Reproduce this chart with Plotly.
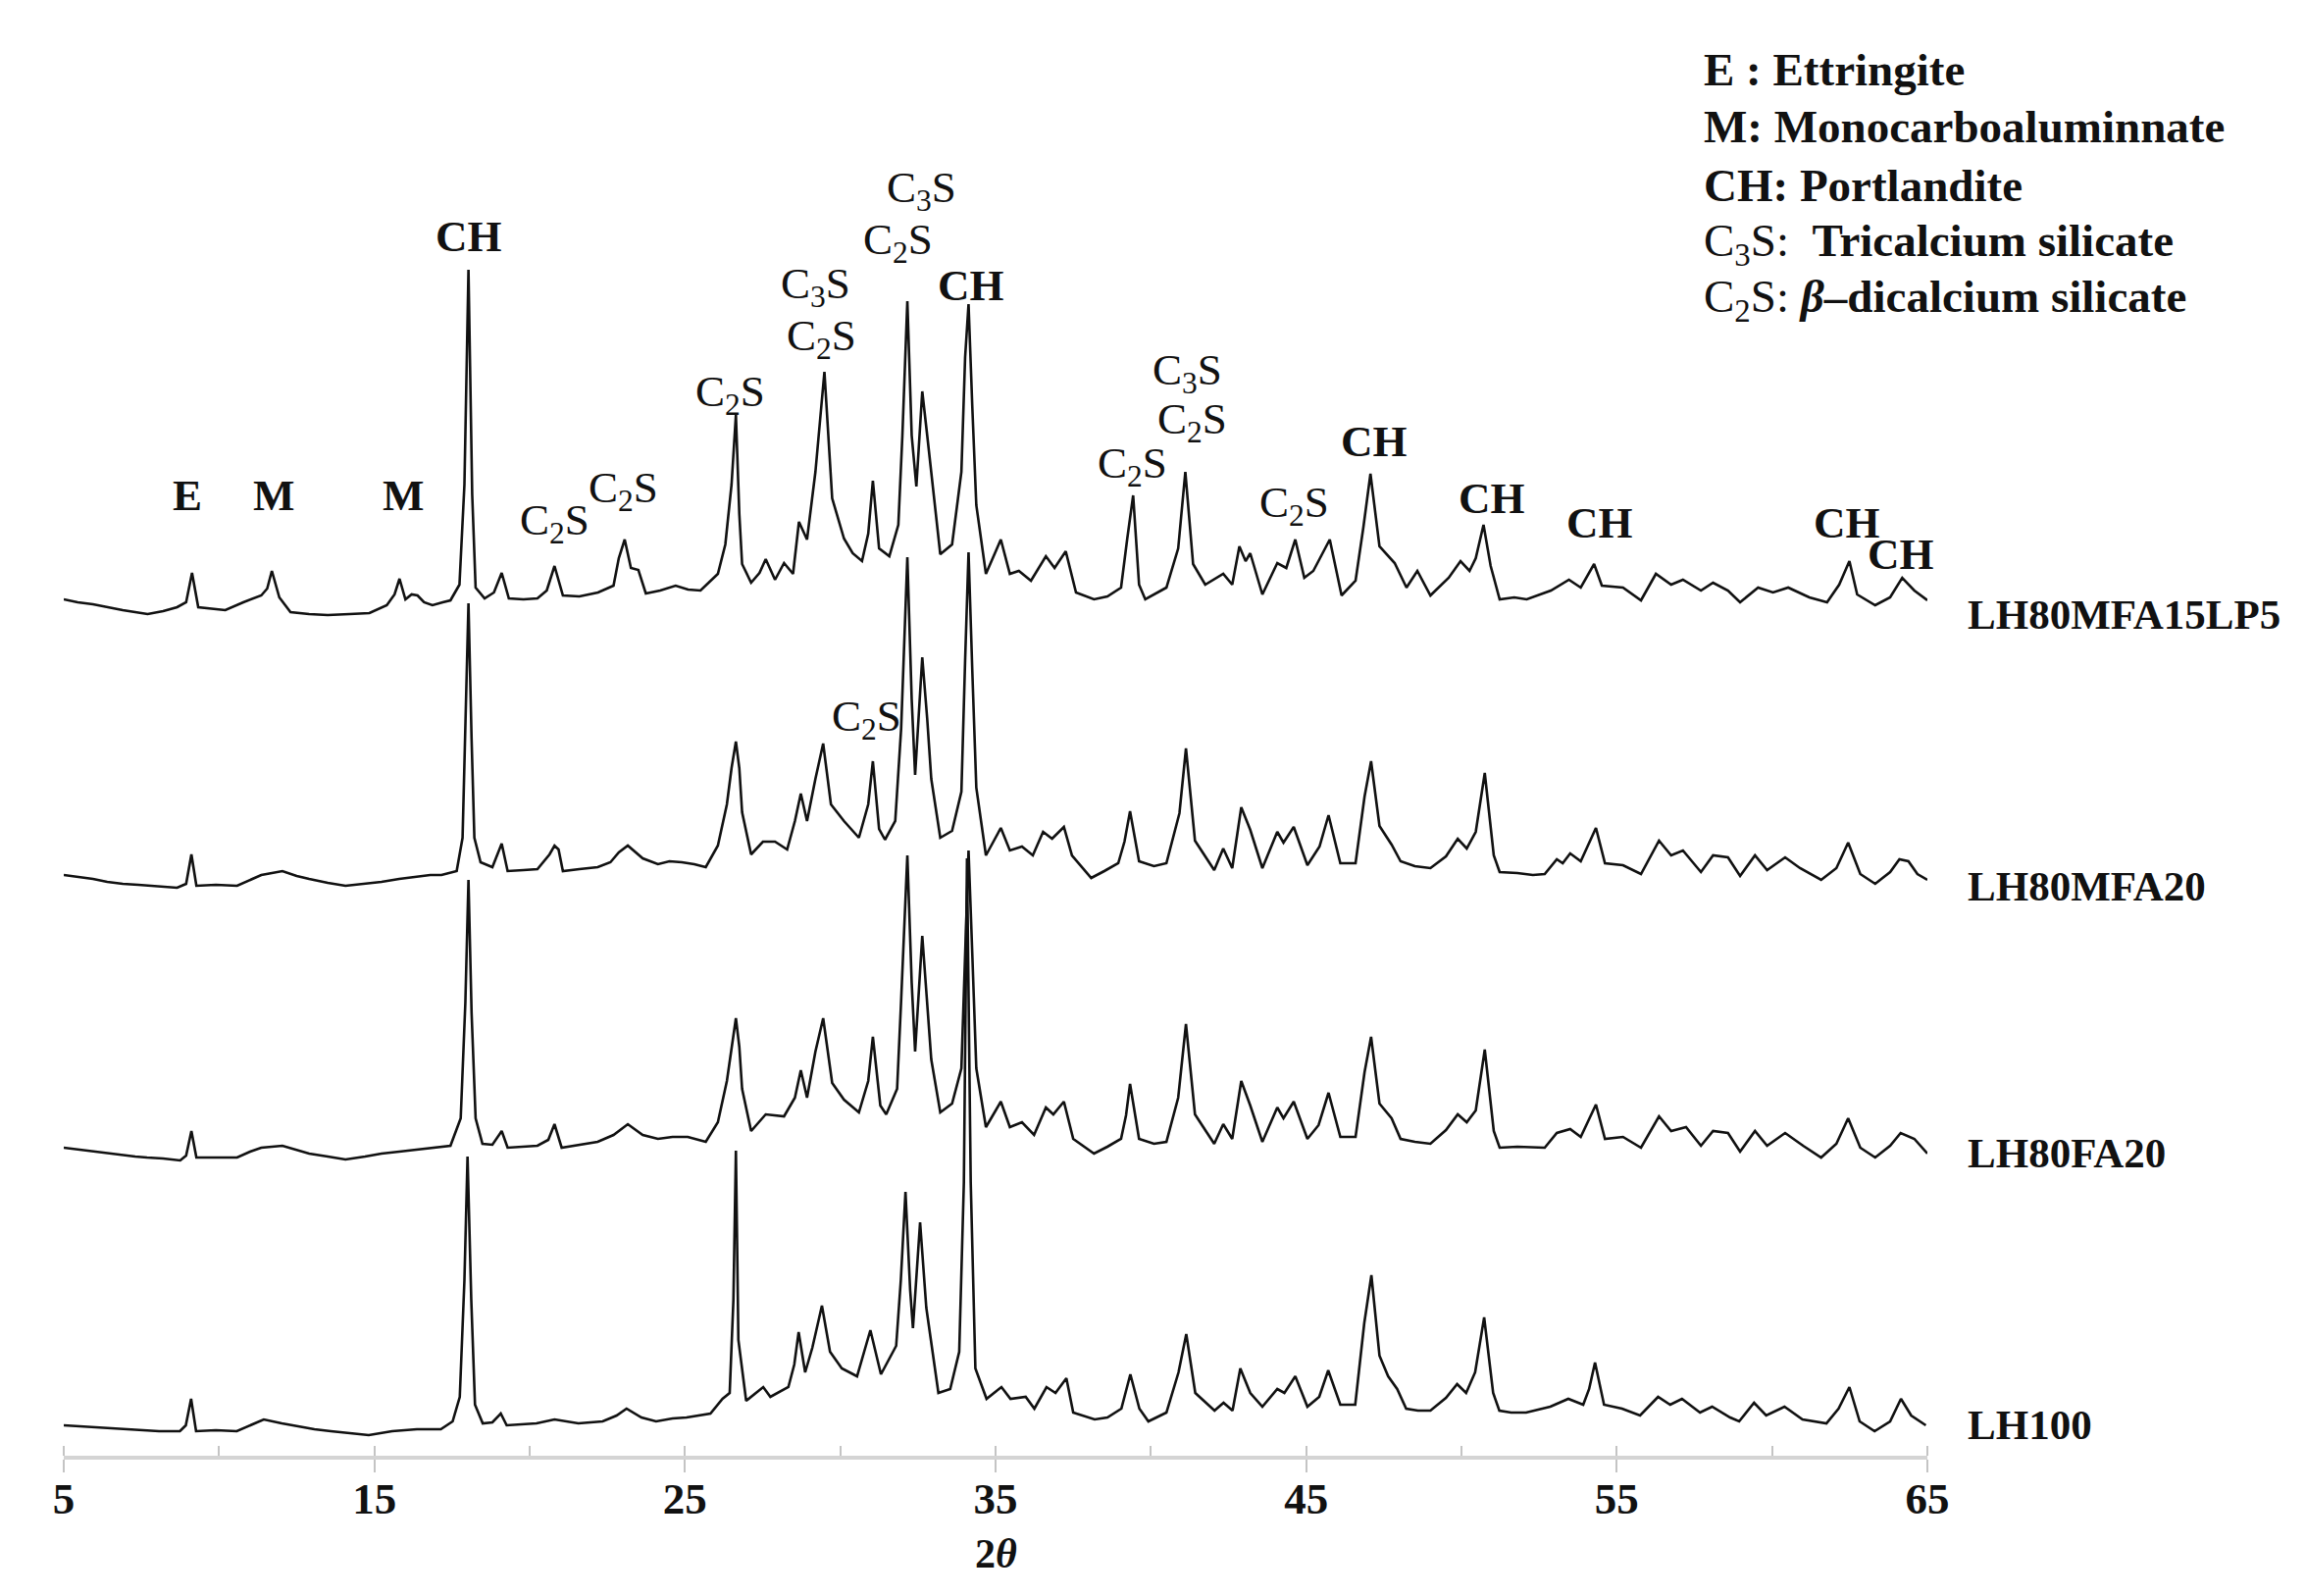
import plotly.graph_objects as go

# ---------------- data (2θ in degrees, relative intensity in a.u.) ----------------
tt_LH80MFA15LP5 = [5.0, 5.45, 5.94, 6.4, 6.9, 7.3, 7.7, 8.2, 8.65, 8.94, 9.13, 9.33, 9.8, 10.2, 10.78, 11.36, 11.55, 11.7, 11.94, 12.3,
                   12.9, 13.5, 14.2, 14.84, 15.4, 15.65, 15.81, 16.0, 16.2, 16.39, 16.6, 16.87, 17.2, 17.45, 17.74, 17.9, 18.03, 18.15, 18.26, 18.55,
                   18.85, 19.1, 19.33, 19.8, 20.25, 20.55, 20.8, 21.07, 21.6, 22.2, 22.7, 22.87, 23.06, 23.26, 23.5, 23.74, 24.2, 24.7, 25.1, 25.5,
                   26.06, 26.3, 26.5, 26.64, 26.75, 26.84, 27.13, 27.4, 27.6, 27.9, 28.19, 28.48, 28.67, 28.93, 29.2, 29.49, 29.74, 30.12, 30.4, 30.7,
                   30.9, 31.05, 31.25, 31.58, 31.87, 32.0, 32.16, 32.3, 32.45, 32.64, 32.8, 32.93, 33.22, 33.6, 33.9, 34.02, 34.13, 34.25, 34.38,
                   34.69, 35.17, 35.46, 35.75, 36.14, 36.62, 36.9, 37.26, 37.59, 38.17, 38.6, 39.04, 39.24, 39.43, 39.62, 39.82, 40.5, 40.88, 41.11, 41.36,
                   41.75, 42.33, 42.62, 42.85, 43.05, 43.2, 43.59, 44.07, 44.36, 44.65, 44.94, 45.23, 45.76, 46.14, 46.59, 46.84, 47.07, 47.36, 47.85, 48.23,
                   48.58, 49.0, 49.59, 49.97, 50.26, 50.46, 50.71, 50.94, 51.23, 51.7, 52.1, 52.88, 53.46, 53.84, 54.27, 54.52, 55.2, 55.78, 56.26, 56.75,
                   57.13, 57.71, 58.1, 58.58, 58.97, 59.55, 60.03, 60.52, 61.2, 61.77, 62.16, 62.49, 62.74, 63.32, 63.8, 64.19, 64.58, 65.0]
I_LH80MFA15LP5 = [3, 0, -2, -5, -8, -10, -12, -9, -5, 0, 30, -5, -7, -8, 0, 7, 14, 32, 5, -10,
                  -12, -13, -12, -11, -3, 8, 24, 3, 8, 7, 0, -3, 0, 2, 18, 120, 339, 110, 15, 4,
                  10, 30, 4, 3, 4, 12, 37, 7, 6, 10, 17, 45, 64, 35, 33, 9, 12, 17, 13, 12,
                  29, 59, 120, 191, 90, 39, 20, 30, 44, 23, 40, 29, 82, 64, 133, 235, 106, 65, 50, 42,
                  70, 124, 55, 47, 79, 170, 307, 170, 118, 215, 170, 133, 49, 59, 133, 250, 304, 200, 99,
                  29, 64, 29, 32, 22, 47, 35, 52, 10, 3, 6, 15, 65, 109, 18, 3, 15, 55, 133, 39,
                  18, 29, 18, 57, 42, 50, 8, 40, 35, 64, 25, 32, 64, 7, 22, 76, 131, 57, 40, 15,
                  32, 7, 25, 42, 32, 45, 79, 37, 3, 5, 3, 12, 23, 15, 39, 17, 15, 2, 29, 18,
                  23, 12, 20, 12, 0, 15, 10, 15, 5, 0, 18, 42, 8, -3, 5, 25, 12, 2]

tt_LH80MFA20 = [5.0, 5.5, 5.94, 6.4, 6.9, 7.4, 7.87, 8.3, 8.65, 8.94, 9.11, 9.27, 9.9, 10.58, 11.0, 11.36, 12.04, 12.5, 12.9, 13.5,
                14.07, 14.7, 15.23, 15.8, 16.39, 16.8, 17.16, 17.45, 17.65, 17.84, 17.93, 18.03, 18.13, 18.22, 18.42, 18.8, 19.1, 19.29, 19.8, 20.25,
                20.64, 20.8, 20.93, 21.07, 21.6, 22.19, 22.6, 22.87, 23.16, 23.64, 24.13, 24.5, 24.9, 25.3, 25.67, 26.06, 26.35, 26.5, 26.64, 26.75,
                26.84, 27.13, 27.51, 27.9, 28.29, 28.54, 28.73, 28.93, 29.2, 29.45, 29.7, 30.12, 30.6, 30.9, 31.05, 31.25, 31.44, 31.77, 31.96, 32.16,
                32.3, 32.41, 32.64, 32.8, 32.93, 33.22, 33.6, 33.9, 34.02, 34.13, 34.25, 34.38,
                34.69, 35.17, 35.46, 35.85, 36.2, 36.53, 36.82, 37.2, 37.46, 38.08, 38.5, 38.95, 39.15, 39.33, 39.62, 40.1, 40.5, 40.92, 41.13, 41.42,
                42.04, 42.33, 42.62, 42.91, 43.2, 43.59, 44.07, 44.27, 44.6, 45.04, 45.43, 45.72, 46.1, 46.59, 46.88, 47.09, 47.36, 47.75, 48.04, 48.5,
                49.0, 49.5, 49.88, 50.17, 50.46, 50.75, 51.04, 51.23, 51.8, 52.3, 52.68, 53.07, 53.26, 53.5, 53.84, 54.33, 54.62, 55.2, 55.78, 56.36,
                56.75, 57.13, 57.71, 58.1, 58.58, 58.97, 59.45, 59.84, 60.42, 60.9, 61.58, 62.07, 62.45, 62.84, 63.32, 63.8, 64.1, 64.39, 64.68, 65.0]
I_LH80MFA20 = [1, -1, -3, -6, -8, -9, -10, -11, -12, -8, 22, -10, -9, -10, -4, 1, 5, 0, -3, -7,
               -10, -8, -6, -3, -1, 1, 1, 3, 5, 39, 150, 278, 140, 39, 14, 9, 33, 5, 6, 7,
               22, 31, 27, 5, 7, 9, 14, 24, 31, 18, 12, 15, 14, 12, 9, 31, 73, 110, 137, 110,
               65, 22, 35, 35, 27, 56, 84, 56, 99, 135, 73, 56, 39, 73, 117, 48, 37, 56, 150, 325,
               180, 103, 223, 160, 99, 39, 46, 86, 220, 330, 210, 90,
               21, 49, 26, 30, 21, 45, 38, 50, 21, -2, 5, 13, 35, 66, 15, 10, 13, 64, 130, 36,
               6, 28, 8, 70, 47, 8, 45, 34, 50, 11, 30, 62, 13, 13, 81, 117, 51, 32, 15, 10,
               8, 20, 38, 28, 45, 105, 21, 4, 3, 1, 2, 17, 13, 23, 15, 49, 13, 11, 2, 36,
               21, 26, 4, 21, 19, 0, 21, 6, 19, 8, -4, 8, 34, 2, -8, 4, 17, 15, 2, -4]

tt_LH80FA20 = [5.0, 5.5, 5.94, 6.4, 6.9, 7.3, 7.68, 8.2, 8.75, 8.94, 9.11, 9.27, 9.9, 10.58, 11.0, 11.36, 12.04, 12.5, 12.9, 13.5,
               14.07, 14.7, 15.23, 15.8, 16.39, 16.9, 17.45, 17.78, 17.93, 18.03, 18.13, 18.26, 18.48, 18.8, 19.1, 19.29, 19.8, 20.25, 20.6, 20.8,
               21.03, 21.6, 22.19, 22.7, 23.16, 23.64, 24.13, 24.6, 25.09, 25.67, 26.06, 26.35, 26.5, 26.64, 26.75, 26.84, 27.13, 27.6, 28.19, 28.54,
               28.73, 28.93, 29.2, 29.45, 29.74, 30.12, 30.6, 30.9, 31.05, 31.29, 31.48, 31.83, 31.96, 32.16, 32.3, 32.41, 32.64, 32.8, 32.93, 33.22,
               33.6, 33.9, 34.02, 34.13, 34.25, 34.38,
               34.69, 35.17, 35.46, 35.85, 36.24, 36.62, 36.86, 37.2, 37.5, 38.17, 38.6, 39.04, 39.2, 39.33, 39.62, 40.1, 40.5, 40.88, 41.13, 41.42,
               42.04, 42.33, 42.62, 42.91, 43.2, 43.59, 44.07, 44.27, 44.6, 45.04, 45.4, 45.72, 46.1, 46.59, 46.88, 47.09, 47.36, 47.75, 48.04, 48.5,
               49.0, 49.5, 49.88, 50.17, 50.46, 50.75, 51.04, 51.23, 51.8, 52.68, 53.07, 53.5, 53.84, 54.33, 54.62, 55.2, 55.78, 56.36, 56.75, 57.23,
               57.71, 58.1, 58.58, 58.97, 59.45, 59.84, 60.42, 61.0, 61.58, 62.07, 62.45, 62.84, 63.32, 63.8, 64.14, 64.58, 65.0]
I_LH80FA20 = [2, 0, -2, -4, -6, -7, -8, -9, -11, -6, 19, -8, -8, -8, -2, 2, 4, 0, -4, -7,
              -10, -7, -4, -2, 0, 2, 4, 32, 150, 275, 140, 32, 6, 5, 19, 2, 3, 4, 10, 26,
              2, 5, 8, 15, 26, 15, 11, 13, 13, 8, 28, 70, 105, 134, 105, 62, 19, 36, 34, 53,
              81, 53, 100, 134, 68, 51, 38, 70, 115, 45, 36, 62, 152, 300, 170, 100, 218, 150, 92, 38,
              47, 83, 210, 305, 200, 83,
              23, 49, 23, 28, 15, 43, 36, 49, 11, -4, 3, 11, 35, 67, 11, 6, 8, 53, 128, 36,
              6, 26, 11, 70, 45, 8, 43, 32, 49, 11, 25, 58, 13, 13, 79, 115, 47, 32, 11, 8,
              6, 20, 36, 28, 40, 102, 19, 2, 3, 2, 17, 21, 13, 46, 11, 13, 2, 34, 19, 23,
              4, 19, 17, -2, 19, 4, 17, 4, -8, 6, 32, 2, -8, 4, 17, 11, -4]

tt_LH100 = [5.0, 5.5, 5.94, 6.4, 6.9, 7.5, 8.07, 8.74, 8.93, 9.1, 9.26, 9.9, 10.57, 11.15, 11.44, 12.02, 12.5, 13.07, 13.6, 14.24,
            14.82, 15.57, 16.37, 17.14, 17.52, 17.75, 17.9, 18.0, 18.12, 18.24, 18.49, 18.8, 19.07, 19.26, 19.8, 20.22, 20.8, 21.57, 22.35, 22.8,
            23.12, 23.6, 24.07, 24.6, 25.05, 25.82, 26.21, 26.44, 26.56, 26.64, 26.72, 26.97, 27.52, 27.75, 28.33, 28.52, 28.66, 28.87, 29.1, 29.41,
            29.67, 30.05, 30.54, 30.97, 31.31, 31.8, 31.95, 32.1, 32.25, 32.34, 32.57, 32.77, 33.16, 33.54, 33.83, 33.98, 34.08, 34.2, 34.35,
            34.71, 35.19, 35.48, 35.97, 36.25, 36.64, 36.93, 37.28, 37.5, 38.19, 38.6, 39.05, 39.34, 39.63, 39.92, 40.5, 40.89, 41.14, 41.43, 42.05,
            42.34, 42.63, 42.88, 43.2, 43.59, 44.07, 44.3, 44.65, 45.04, 45.42, 45.71, 46.1, 46.58, 46.87, 47.1, 47.36, 47.64, 47.93, 48.22, 48.6,
            49.0, 49.5, 49.86, 50.15, 50.44, 50.73, 51.02, 51.22, 51.6, 52.08, 52.86, 53.44, 53.92, 54.11, 54.3, 54.59, 55.17, 55.75, 56.33, 56.72,
            57.1, 57.68, 58.07, 58.65, 58.94, 59.42, 59.81, 60.4, 60.98, 61.75, 62.14, 62.49, 62.82, 63.3, 63.8, 64.15, 64.48, 64.95]
I_LH100 = [2, 1, 0, -1, -2, -3, -4, -4, 2, 29, -4, -3, -4, 4, 8, 4, 1, -2, -4, -6,
           -8, -4, -2, -2, 6, 31, 150, 276, 130, 23, 4, 5, 14, 2, 3, 4, 8, 4, 6, 12,
           19, 10, 6, 9, 10, 14, 29, 35, 130, 282, 89, 27, 41, 31, 41, 64, 97, 56, 81, 124,
           77, 60, 52, 99, 54, 83, 150, 240, 140, 101, 209, 122, 35, 39, 77, 250, 580, 250, 60,
           29, 41, 29, 31, 19, 41, 35, 50, 15, 8, 10, 19, 54, 19, 6, 15, 56, 95, 35, 17,
           25, 17, 60, 35, 21, 39, 35, 52, 21, 31, 58, 23, 23, 106, 155, 73, 52, 39, 19, 17,
           17, 30, 44, 35, 56, 112, 35, 17, 15, 15, 21, 29, 23, 39, 66, 23, 19, 12, 31, 23,
           29, 15, 21, 10, 6, 25, 12, 21, 8, 4, 19, 41, 6, -4, 6, 29, 12, 2]

sample_names = ["LH100", "LH80FA20", "LH80MFA20", "LH80MFA15LP5"]
series_x = [tt_LH100, tt_LH80FA20, tt_LH80MFA20, tt_LH80MFA15LP5]
series_y = [I_LH100, I_LH80FA20, I_LH80MFA20, I_LH80MFA15LP5]
stack_offsets = [29, 312, 591, 870]          # vertical stacking of the patterns
name_label_dy = [3, -3, -10, -12]            # small shift of the sample names

tick_values = [5, 15, 25, 35, 45, 55, 65]

# phase labels above the peaks: (text, 2θ, height)
peak_label_text = ["<b>E</b>", "<b>M</b>", "<b>M</b>", "<b>CH</b>", "C<sub>2</sub>S", "C<sub>2</sub>S", "C<sub>2</sub>S",
                   "C<sub>3</sub>S", "C<sub>2</sub>S", "C<sub>3</sub>S", "C<sub>2</sub>S", "<b>CH</b>",
                   "C<sub>2</sub>S", "C<sub>3</sub>S", "C<sub>2</sub>S", "C<sub>2</sub>S",
                   "<b>CH</b>", "<b>CH</b>", "<b>CH</b>", "<b>CH</b>", "<b>CH</b>", "C<sub>2</sub>S"]
peak_label_x = [8.98, 11.75, 15.92, 18.05, 20.8, 23.0, 26.45,
                29.2, 29.4, 32.6, 31.86, 34.2,
                39.4, 41.18, 41.34, 44.62,
                47.2, 50.97, 54.44, 62.4, 64.15, 30.85]
peak_label_y = [979, 979, 979, 1243, 951, 984, 1082,
                1192, 1139, 1290, 1237, 1193,
                1009, 1104, 1054, 969,
                1034, 976, 951, 951, 919, 751]

legend_lines = ["<b>E : Ettringite</b>",
                "<b>M: Monocarboaluminnate</b>",
                "<b>CH: Portlandite</b>",
                "C<sub>3</sub>S:&nbsp; <b>Tricalcium silicate</b>",
                "C<sub>2</sub>S: <b><i>β</i>–dicalcium silicate</b>"]
legend_y = [1413, 1355, 1295, 1236, 1179]

# ---------------- figure ----------------
FONT = "Liberation Serif, Times New Roman, serif"
fig = go.Figure()

for name, xs, ys, off in zip(sample_names, series_x, series_y, stack_offsets):
    fig.add_trace(go.Scatter(
        x=xs, y=[v + off for v in ys], mode="lines", name=name,
        line=dict(color="#111111", width=2.6), showlegend=False, hoverinfo="skip"))

annotations = []
for name, off, dy in zip(sample_names, stack_offsets, name_label_dy):
    annotations.append(dict(x=1.0205, y=off + dy, xref="paper", yref="y", text="<b>" + name + "</b>",
                            showarrow=False, xanchor="left", yanchor="middle",
                            font=dict(family=FONT, size=43, color="#111111")))

for t, x, y in zip(peak_label_text, peak_label_x, peak_label_y):
    annotations.append(dict(x=x, y=y, xref="x", yref="y", text=t, showarrow=False,
                            xanchor="center", yanchor="middle",
                            font=dict(family=FONT, size=45, color="#111111")))

for t, y in zip(legend_lines, legend_y):
    annotations.append(dict(x=57.75, y=y, xref="x", yref="y", text=t, showarrow=False,
                            xanchor="left", yanchor="middle",
                            font=dict(family=FONT, size=47, color="#111111")))

annotations.append(dict(x=35, y=-0.068, xref="x", yref="paper", text="<b>2<i>θ</i></b>",
                        showarrow=False, xanchor="center", yanchor="middle",
                        font=dict(family=FONT, size=42, color="#111111")))

fig.update_layout(
    width=2350, height=1627,
    margin=dict(l=57, r=393, t=0, b=151),
    paper_bgcolor="white", plot_bgcolor="white",
    annotations=annotations,
    xaxis=dict(range=[5, 65], showgrid=False, zeroline=False,
               showline=True, linecolor="#d4d4d4", linewidth=4,
               tickmode="array", tickvals=tick_values,
               ticktext=["<b>%d</b>" % v for v in tick_values],
               ticks="outside", ticklen=13, tickwidth=2, tickcolor="#c4c4c4",
               minor=dict(ticks="inside", dtick=5, tick0=5, ticklen=10, tickwidth=2, tickcolor="#c4c4c4"),
               tickfont=dict(family=FONT, size=45, color="#111111"),
               ticklabelstandoff=-12),
    yaxis=dict(range=[0, 1476], visible=False, showgrid=False, zeroline=False),
)

fig.write_html("out.html")
